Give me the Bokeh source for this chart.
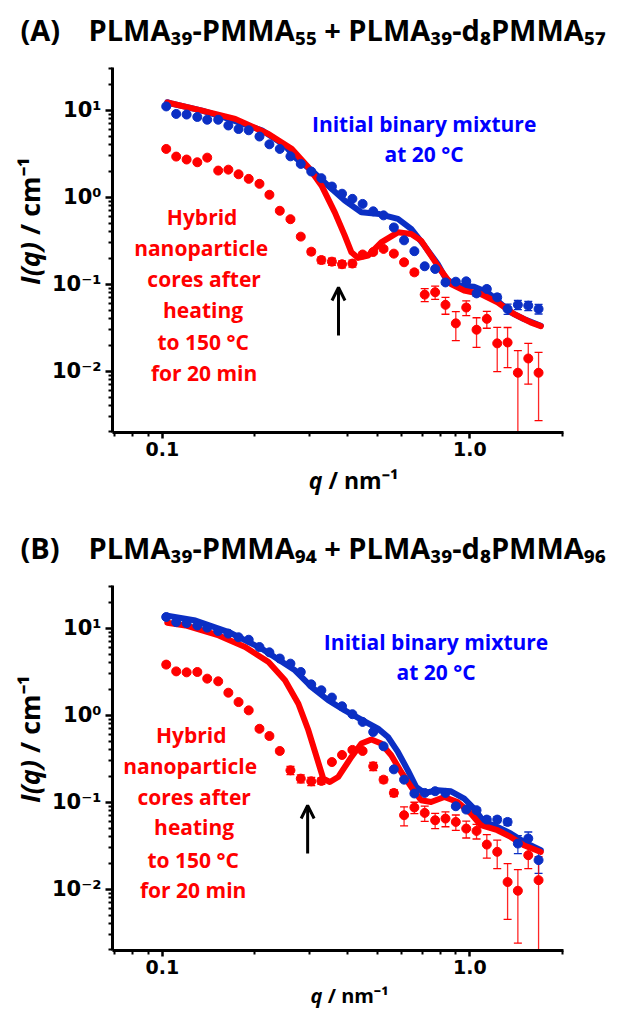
import math
from bokeh.plotting import figure
from bokeh.layouts import column, row
from bokeh.models import (Range1d, FixedTicker, CustomJSTickFormatter, Label,
                          Arrow, OpenHead, Whisker, TeeHead, ColumnDataSource)
from bokeh.embed import file_html
from bokeh.resources import INLINE

# ---------------- data ----------------
q = [0.103, 0.111, 0.120, 0.130, 0.140, 0.152, 0.164, 0.177, 0.191, 0.207,
     0.223, 0.241, 0.261, 0.282, 0.305, 0.329, 0.356, 0.384, 0.415, 0.448,
     0.485, 0.524, 0.566, 0.611, 0.660, 0.713, 0.771, 0.833, 0.900, 0.973,
     1.051, 1.135, 1.227, 1.326, 1.432, 1.548, 1.672]

# Panel A
a_blue = [11.1, 9.1, 8.95, 8.4, 7.8, 7.8, 6.7, 6.1, 5.9, 5.0,
          4.07, 3.6, 2.96, 2.42, 1.98, 1.66, 1.33, 1.10, 0.96, 0.84,
          0.69, 0.62, 0.45, 0.32, 0.24, 0.161, 0.150, 0.105, 0.107, 0.108,
          0.0785, 0.0883, 0.0707, 0.052, 0.058, 0.0567, 0.052]
a_blue_err = [0.4, 0.3, 0.3, 0.3, 0.25, 0.25, 0.2, 0.2, 0.18, 0.15,
              0.12, 0.1, 0.08, 0.06, 0.05, 0.04, 0.03, 0.025, 0.02, 0.018,
              0.015, 0.013, 0.01, 0.008, 0.006, 0.005, 0.005, 0.005, 0.005, 0.006,
              0.006, 0.006, 0.006, 0.007, 0.007, 0.007, 0.0065]
a_red = [3.6, 2.94, 2.72, 2.53, 2.86, 2.03, 2.08, 1.84, 1.63, 1.43,
         1.07, 0.70, 0.56, 0.353, 0.237, 0.19, 0.182, 0.170, 0.173, 0.22,
         0.235, 0.255, 0.225, 0.179, 0.137, 0.076, 0.081, 0.058, 0.0355, 0.054,
         0.030, 0.040, 0.0209, 0.0214, 0.0096, 0.0140, 0.0096]
a_red_err = [0.2, 0.12, 0.12, 0.11, 0.11, 0.08, 0.08, 0.07, 0.06, 0.05,
             0.04, 0.03, 0.025, 0.018, 0.017, 0.017, 0.017, 0.016, 0.016, 0.014,
             0.013, 0.012, 0.011, 0.01, 0.009, 0.013, 0.014, 0.0128, 0.013, 0.0105,
             0.0112, 0.0088, 0.011, 0.0104, 0.0076, 0.0069, 0.0069]
a_fit_blue_q = [0.1038, 0.1078, 0.1347, 0.1644, 0.2107, 0.2506, 0.270, 0.306,
                0.3463, 0.392, 0.4438, 0.5076, 0.5834, 0.6443, 0.7113, 0.786,
                0.8363, 0.912, 1.032, 1.141, 1.229, 1.357, 1.498, 1.70]
a_fit_blue = [12.4, 11.9, 9.95, 7.98, 5.89, 3.94, 2.88, 2.03,
              1.36, 0.916, 0.672, 0.641, 0.564, 0.433, 0.278, 0.171,
              0.115, 0.0964, 0.0938, 0.0807, 0.0647, 0.0475, 0.0399, 0.0334]
a_fit_red_q = [0.1038, 0.1347, 0.1727, 0.2215, 0.2634, 0.2985, 0.3295, 0.3638,
               0.392, 0.412, 0.433, 0.4666, 0.515, 0.5834, 0.6443, 0.694,
               0.7477, 0.8055, 0.868, 0.9585, 1.085, 1.229, 1.391, 1.575, 1.70]
a_fit_red = [12.3, 9.95, 7.98, 5.36, 3.61, 2.21, 1.36, 0.672,
             0.3625, 0.233, 0.2008, 0.2133, 0.3034, 0.3957, 0.379, 0.3175,
             0.2133, 0.1434, 0.1008, 0.0844, 0.0773, 0.0619, 0.0455, 0.0364, 0.033]

# Panel B
b_blue = [13.5, 11.8, 11.5, 10.8, 10.2, 9.3, 8.7, 7.9, 7.4, 6.1,
          5.3, 4.5, 3.93, 3.15, 2.27, 1.94, 1.60, 1.27, 1.03, 0.84,
          0.643, 0.44, 0.239, 0.182, 0.126, 0.128, 0.134, 0.128, 0.090, 0.0824,
          0.081, 0.0632, 0.0632, 0.0594, 0.0335, 0.0383, 0.0216]
b_blue_err = [0.5, 0.4, 0.35, 0.3, 0.3, 0.25, 0.22, 0.2, 0.18, 0.15,
              0.12, 0.1, 0.09, 0.07, 0.05, 0.04, 0.035, 0.03, 0.025, 0.02,
              0.016, 0.012, 0.008, 0.006, 0.005, 0.005, 0.005, 0.005, 0.005, 0.005,
              0.005, 0.005, 0.005, 0.005, 0.0079, 0.0072, 0.0064]
b_red = [3.83, 3.2, 3.12, 3.15, 2.64, 2.46, 1.82, 1.42, 1.14, 0.70,
         0.578, 0.389, 0.233, 0.187, 0.174, 0.176, 0.29, 0.35, 0.40, 0.389,
         0.259, 0.182, 0.128, 0.071, 0.087, 0.0754, 0.0621, 0.0649, 0.0594, 0.0498,
         0.0468, 0.0326, 0.0269, 0.0121, 0.0096, 0.0246, 0.0127]
b_red_err = [0.25, 0.15, 0.15, 0.15, 0.12, 0.1, 0.08, 0.06, 0.05, 0.035,
             0.03, 0.025, 0.025, 0.02, 0.019, 0.015, 0.015, 0.015, 0.015, 0.014,
             0.028, 0.015, 0.012, 0.0175, 0.013, 0.015, 0.0124, 0.0126, 0.012, 0.011,
             0.009, 0.0098, 0.0097, 0.0076, 0.0072, 0.0074, 0.011]
b_fit_blue_q = [0.1038, 0.1282, 0.1644, 0.2107, 0.270, 0.306, 0.3463, 0.392,
                0.4438, 0.5027, 0.5417, 0.5834, 0.6286, 0.6686, 0.7113, 0.786,
                0.868, 0.9585, 1.032, 1.112, 1.229, 1.357, 1.498, 1.70]
b_fit_blue = [14.0, 12.3, 9.07, 5.84, 3.29, 2.11, 1.49, 1.14,
              0.893, 0.703, 0.563, 0.379, 0.233, 0.150, 0.128, 0.1374,
              0.1337, 0.110, 0.0847, 0.0594, 0.0520, 0.0437, 0.035, 0.0281]
b_fit_red_q = [0.1038, 0.119, 0.1526, 0.186, 0.2215, 0.2506, 0.277, 0.2985,
               0.3174, 0.3337, 0.3505, 0.373, 0.412, 0.4438, 0.4782, 0.515,
               0.555, 0.598, 0.6443, 0.694, 0.7477, 0.8258, 0.912, 1.0075,
               1.085, 1.229, 1.357, 1.498, 1.70]
b_fit_red = [11.6, 10.8, 8.3, 6.1, 4.1, 2.53, 1.36, 0.672,
             0.332, 0.187, 0.171, 0.195, 0.332, 0.473, 0.526, 0.473,
             0.347, 0.223, 0.150, 0.1054, 0.1007, 0.115, 0.1007, 0.0741,
             0.0544, 0.0477, 0.0399, 0.032, 0.0268]

x_major = [0.1, 1.0]
x_minor = [0.07, 0.08, 0.09, 0.2, 0.3, 0.4, 0.5, 0.6, 0.7, 0.8, 0.9, 2.0]
y_major = [0.01, 0.1, 1, 10]
y_minor = [0.002, 0.003, 0.004, 0.005, 0.006, 0.007, 0.008, 0.009,
           0.02, 0.03, 0.04, 0.05, 0.06, 0.07, 0.08, 0.09,
           0.2, 0.3, 0.4, 0.5, 0.6, 0.7, 0.8, 0.9,
           2, 3, 4, 5, 6, 7, 8, 9, 20, 30]

titles = ["PLMA₃₉-PMMA₅₅ + PLMA₃₉-d₈PMMA₅₇", "PLMA₃₉-PMMA₉₄ + PLMA₃₉-d₈PMMA₉₆"]
blue_text = ["Initial binary mixture", "at 20 °C"]
red_text = ["Hybrid", "nanoparticle", "cores after", "heating", "to 150 °C", "for 20 min"]

# ---------------- styling / geometry ----------------
W = 621
X_LO, X_HI = 0.0689, 2.015
Y_LO, Y_HI = 10 ** -2.705, 10 ** 1.493
FR_L, FR_W, FR_H = 110, 453, 365
YL_W = 48            # width of the y-label strip
BB = 32              # bottom border of the main plots
BLUE = "#0b2fc4"
BLUE_TXT = "#0000ff"
RED = "#ff0000"
FONT = "Open Sans"
TICK_FONT = "DejaVu Sans"

lx0, lx1 = math.log10(X_LO), math.log10(X_HI)
ly0, ly1 = math.log10(Y_LO), math.log10(Y_HI)

Y_FMT = """
const sup = {"-": "⁻", "0": "⁰", "1": "¹", "2": "²", "3": "³", "4": "⁴",
             "5": "⁵", "6": "⁶", "7": "⁷", "8": "⁸", "9": "⁹"};
const e = Math.round(Math.log(tick) / Math.LN10);
let s = "";
for (const c of String(e)) { s += sup[c]; }
return "10" + s;
"""


def text_fig(x0, x1, y0, y1):
    """A blank strip whose data coordinates equal page pixels."""
    f = figure(width=x1 - x0, height=y1 - y0,
               x_range=Range1d(x0, x1), y_range=Range1d(y1, y0),
               x_axis_location=None, y_axis_location=None,
               toolbar_location=None, output_backend="svg",
               min_border=0, min_border_left=0, min_border_right=0,
               min_border_top=0, min_border_bottom=0)
    f.outline_line_color = None
    f.grid.visible = False
    f.background_fill_color = "white"
    return f


def lab(f, x, y, text, size, color="black", style="bold", align="left", angle=0.0):
    f.add_layout(Label(x=x, y=y, text=text, angle=angle, text_color=color,
                       text_font=FONT, text_font_style=style, text_font_size=size,
                       text_align=align, text_baseline="middle"))


def make_panel(letter, title, blue, blue_err, red, red_err,
               fbq, fb, frq, fr, y_top, ft, blue_pos, red_pos, arrow_pos,
               title_h, xl_h, title_mid, ylab_mid, xlab_mid, xlab_size):
    # ---- title strip
    t = text_fig(0, W, y_top, y_top + title_h)
    lab(t, 20, title_mid, "(" + letter + ")", "29px")
    lab(t, 88, title_mid, title, "29px")

    mid_top = y_top + title_h
    bt = ft - mid_top
    mid_h = bt + FR_H + BB
    mid_bot = mid_top + mid_h

    # ---- y-label strip
    yl = text_fig(0, YL_W, mid_top, mid_bot)
    lab(yl, 29, ylab_mid, "I(q)", "27px", style="bold italic", align="right", angle=math.pi / 2)
    lab(yl, 29, ylab_mid, "\u00a0/ cm⁻¹", "27px", align="left", angle=math.pi / 2)

    # ---- main plot
    def xd(px):
        return 10 ** (lx0 + (px - FR_L) / FR_W * (lx1 - lx0))

    def yd(py):
        return 10 ** (ly1 - (py - ft) / FR_H * (ly1 - ly0))

    bl = FR_L - YL_W
    br = W - FR_L - FR_W
    p = figure(width=W - YL_W, height=mid_h, x_axis_type="log", y_axis_type="log",
               x_range=Range1d(X_LO, X_HI), y_range=Range1d(Y_LO, Y_HI),
               toolbar_location=None, output_backend="svg",
               min_border_left=bl, min_border_right=br,
               min_border_top=bt, min_border_bottom=BB)
    p.outline_line_color = None
    p.xgrid.visible = False
    p.ygrid.visible = False
    p.background_fill_color = "white"

    p.xaxis.ticker = FixedTicker(ticks=x_major, minor_ticks=x_minor)
    p.yaxis.ticker = FixedTicker(ticks=y_major, minor_ticks=y_minor)
    p.xaxis.formatter = CustomJSTickFormatter(code="return tick.toFixed(1);")
    p.yaxis.formatter = CustomJSTickFormatter(code=Y_FMT)
    for ax in (p.xaxis[0], p.yaxis[0]):
        ax.axis_line_width = 3
        ax.axis_line_color = "black"
        ax.major_tick_line_width = 2.5
        ax.minor_tick_line_width = 2
        ax.major_tick_in = 0
        ax.major_tick_out = 7
        ax.minor_tick_in = 0
        ax.minor_tick_out = 4
        ax.major_label_text_font = TICK_FONT
        ax.major_label_text_font_style = "bold"
        ax.major_label_text_color = "black"
    p.yaxis.major_label_text_font_size = "21px"
    p.yaxis.major_label_standoff = 4
    p.xaxis.major_tick_out = 6
    p.xaxis.major_label_text_font_size = "19px"
    p.xaxis.major_label_standoff = 3

    p.line(fbq, fb, line_color=BLUE, line_width=6, line_join="round", line_cap="round")
    p.line(frq, fr, line_color=RED, line_width=6, line_join="round", line_cap="round")

    for vals, errs, col in ((blue, blue_err, BLUE), (red, red_err, RED)):
        src = ColumnDataSource(dict(q=q, v=vals,
                                    lo=[v - e for v, e in zip(vals, errs)],
                                    hi=[v + e for v, e in zip(vals, errs)]))
        p.add_layout(Whisker(source=src, base="q", lower="lo", upper="hi",
                             line_color=col, line_width=1.3, line_alpha=0.85,
                             upper_head=TeeHead(size=8, line_color=col, line_width=1.3),
                             lower_head=TeeHead(size=8, line_color=col, line_width=1.3)))
        p.scatter("q", "v", source=src, size=9, fill_color=col, line_color=col)

    for tx, (cx, cy) in zip(blue_text, blue_pos):
        lab(p, xd(cx), yd(cy), tx, "21px", color=BLUE_TXT, align="center")
    for tx, (cx, cy) in zip(red_text, red_pos):
        lab(p, xd(cx), yd(cy), tx, "21px", color=RED, align="center")

    ax_, ay0, ay1 = arrow_pos
    p.add_layout(Arrow(end=OpenHead(size=13, line_width=3, line_color="black"),
                       x_start=xd(ax_), y_start=yd(ay0), x_end=xd(ax_), y_end=yd(ay1),
                       line_width=3, line_color="black"))

    # ---- x-label strip
    xl = text_fig(0, W, mid_bot, mid_bot + xl_h)
    lab(xl, 322, xlab_mid, "q", xlab_size, style="bold italic", align="right")
    lab(xl, 322, xlab_mid, "\u00a0/ nm⁻¹", xlab_size, align="left")

    return column(t, row(yl, p, spacing=0), xl, spacing=0)


pa = make_panel("A", titles[0], a_blue, a_blue_err, a_red, a_red_err,
                a_fit_blue_q, a_fit_blue, a_fit_red_q, a_fit_red,
                y_top=0, ft=67,
                blue_pos=[(423, 123.5), (423, 153.5)],
                red_pos=[(200, 216), (199, 247), (202, 278.5), (201, 309.5),
                         (201, 341), (202, 372)],
                arrow_pos=(337, 335, 287),
                title_h=54, xl_h=44,
                title_mid=29, ylab_mid=250, xlab_mid=479, xlab_size="23px")
pb = make_panel("B", titles[1], b_blue, b_blue_err, b_red, b_red_err,
                b_fit_blue_q, b_fit_blue, b_fit_red_q, b_fit_red,
                y_top=508, ft=585,
                blue_pos=[(435, 641), (435, 671.5)],
                red_pos=[(189, 734), (188, 765), (192, 796), (192, 826.5),
                         (191, 859), (191, 889)],
                arrow_pos=(306, 853, 805),
                title_h=64, xl_h=26,
                title_mid=547, ylab_mid=768, xlab_mid=995, xlab_size="20px")

layout = column(pa, pb, spacing=0)
open("out.html", "w").write(file_html(layout, INLINE))
